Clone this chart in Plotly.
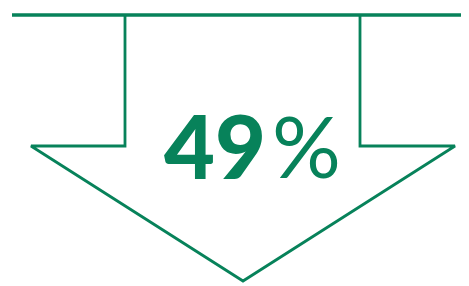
import plotly.graph_objects as go

# Data
value = 49
value_label = f"{value}"
unit_label = "%"

# Arrow outline geometry (page-pixel units, y downwards)
top_line_x = [12, 463]
top_line_y = [15, 15]
arrow_x = [125, 125, 31, 243, 455, 360, 360]
arrow_y = [15, 146, 146, 281, 146, 146, 15]

green = "#07825a"

# page body has an 8px margin; map axis units to page pixels
OFF = 8
W, H = 469, 286

fig = go.Figure()
fig.add_trace(go.Scatter(x=top_line_x, y=top_line_y, mode="lines",
                         line=dict(color=green, width=3.5), hoverinfo="skip"))
fig.add_trace(go.Scatter(x=arrow_x, y=arrow_y, mode="lines",
                         line=dict(color=green, width=2.8), hoverinfo="skip"))

fig.add_annotation(x=268, y=145, xref="x", yref="y", text=value_label,
                   showarrow=False, xanchor="right", yanchor="middle",
                   font=dict(family="Lato", size=88, color=green, weight=900))
fig.add_annotation(x=270, y=144, xref="x", yref="y", text=unit_label,
                   showarrow=False, xanchor="left", yanchor="middle",
                   font=dict(family="Lato", size=86, color=green, weight=400))

fig.update_layout(
    width=W - OFF, height=H - OFF,
    margin=dict(l=0, r=0, t=0, b=0),
    paper_bgcolor="white", plot_bgcolor="white",
    showlegend=False,
    xaxis=dict(range=[OFF, W], visible=False, fixedrange=True),
    yaxis=dict(range=[H, OFF], visible=False, fixedrange=True),
)
fig.write_html("out.html", config={"displayModeBar": False})
